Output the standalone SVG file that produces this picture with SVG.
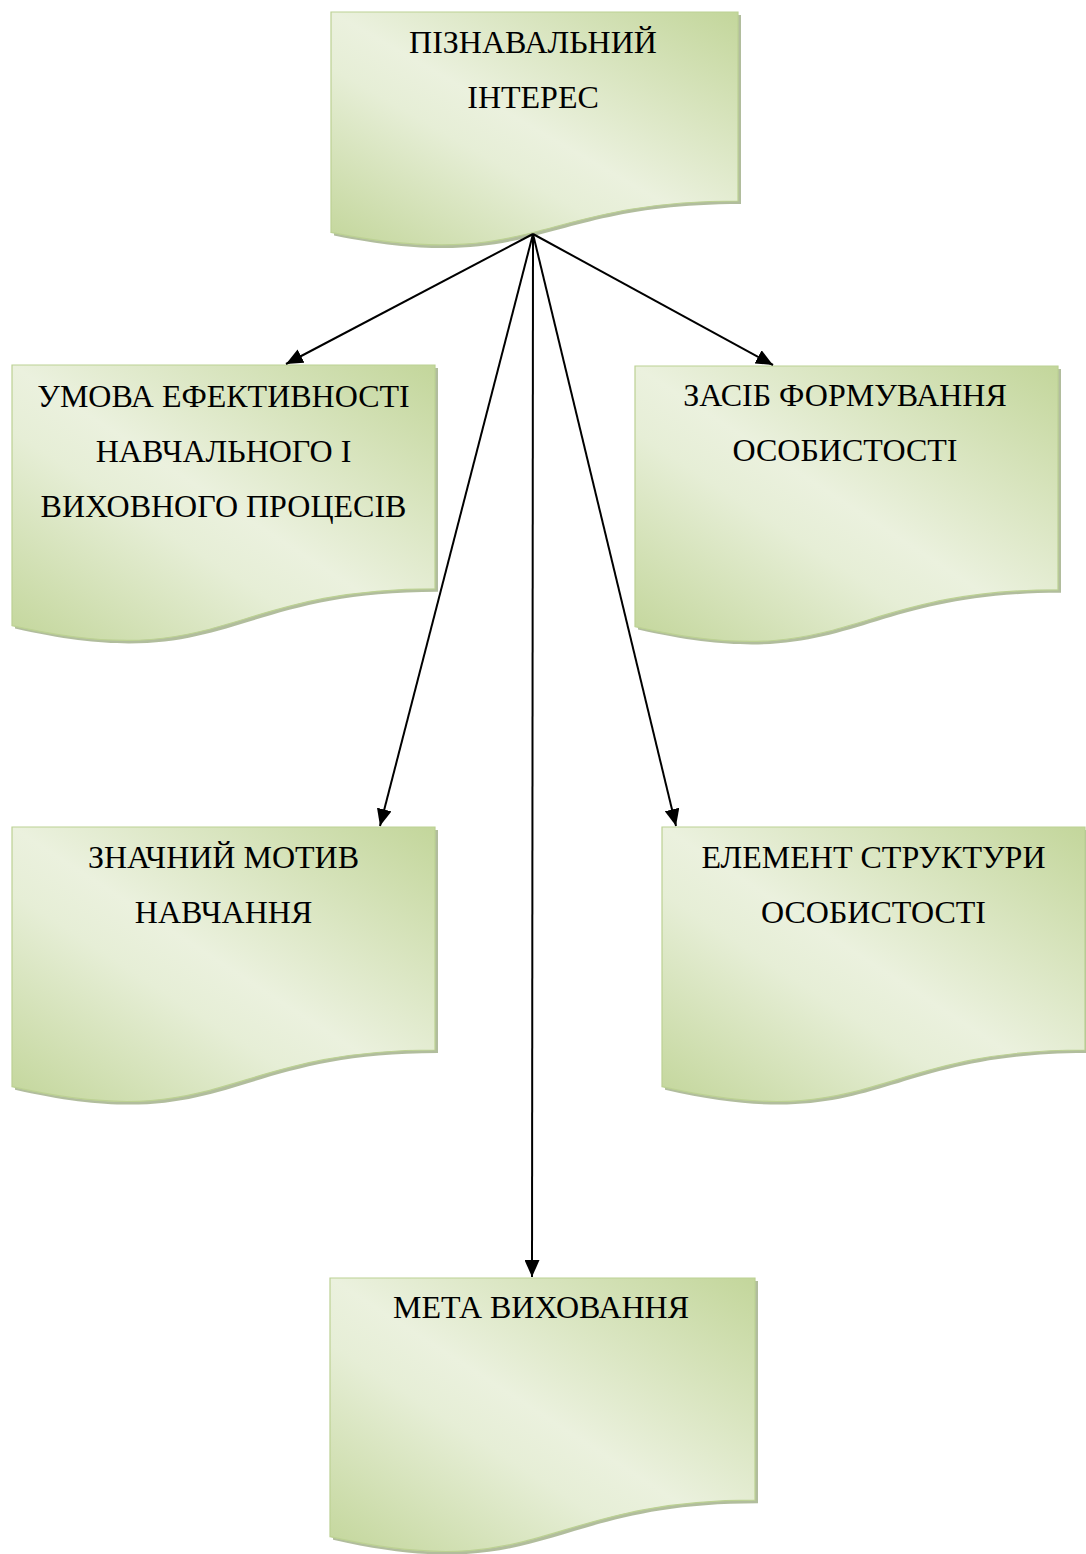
<svg xmlns="http://www.w3.org/2000/svg" width="1086" height="1554" viewBox="0 0 1086 1554">
<defs>
<linearGradient id="g" x1="1" y1="0" x2="0" y2="1">
<stop offset="0" stop-color="#c3d69b"/>
<stop offset="0.5" stop-color="#ebf1de"/>
<stop offset="0.62" stop-color="#e6eed6"/>
<stop offset="1" stop-color="#c3d69b"/>
</linearGradient>
<marker id="ah" markerUnits="userSpaceOnUse" markerWidth="18" markerHeight="15" refX="17" refY="7.5" orient="auto">
<path d="M0,0 L17,7.5 L0,15 Z" fill="#000"/>
</marker>
</defs>
<style>
.sh{fill:#a3b18c;opacity:0.85}
.bx{fill:url(#g);stroke:#bcd193;stroke-width:1.2}
.t{font-family:"Liberation Serif","Times New Roman",serif;font-size:32px;fill:#000;text-anchor:middle}
.c{stroke:#000;stroke-width:2;fill:none;marker-end:url(#ah)}
</style>
<rect width="1086" height="1554" fill="#fff"/>

<g id="node-piznavalnyi">
<path class="sh" transform="translate(3,3)" d="M331,12 H738 V201 C534.5,201 534.5,273.5 331,232.4 Z"/>
<path class="bx" d="M331,12 H738 V201 C534.5,201 534.5,273.5 331,232.4 Z"/>
<text class="t" x="533" y="53">ПІЗНАВАЛЬНИЙ</text>
<text class="t" x="533" y="108">ІНТЕРЕС</text>
</g>

<g id="node-umova">
<path class="sh" transform="translate(3,3)" d="M12,365 H435 V588.8 C223.5,588.8 223.5,674 12,625.6 Z"/>
<path class="bx" d="M12,365 H435 V588.8 C223.5,588.8 223.5,674 12,625.6 Z"/>
<text class="t" x="223.5" y="407">УМОВА ЕФЕКТИВНОСТІ</text>
<text class="t" x="223.5" y="462">НАВЧАЛЬНОГО І</text>
<text class="t" x="223.5" y="517">ВИХОВНОГО ПРОЦЕСІВ</text>
</g>

<g id="node-zasib">
<path class="sh" transform="translate(3,3)" d="M635,366 H1058 V589.8 C846.5,589.8 846.5,675 635,626.6 Z"/>
<path class="bx" d="M635,366 H1058 V589.8 C846.5,589.8 846.5,675 635,626.6 Z"/>
<text class="t" x="845" y="406">ЗАСІБ ФОРМУВАННЯ</text>
<text class="t" x="845" y="461">ОСОБИСТОСТІ</text>
</g>

<g id="node-znachnyi">
<path class="sh" transform="translate(3,3)" d="M12,827 H435 V1050 C223.5,1050 223.5,1135 12,1086.7 Z"/>
<path class="bx" d="M12,827 H435 V1050 C223.5,1050 223.5,1135 12,1086.7 Z"/>
<text class="t" x="223.5" y="868">ЗНАЧНИЙ МОТИВ</text>
<text class="t" x="223.5" y="923">НАВЧАННЯ</text>
</g>

<g id="node-element">
<path class="sh" transform="translate(3,3)" d="M662,827 H1085 V1050 C873.5,1050 873.5,1135 662,1086.7 Z"/>
<path class="bx" d="M662,827 H1085 V1050 C873.5,1050 873.5,1135 662,1086.7 Z"/>
<text class="t" x="873.5" y="868">ЕЛЕМЕНТ СТРУКТУРИ</text>
<text class="t" x="873.5" y="923">ОСОБИСТОСТІ</text>
</g>

<g id="node-meta">
<path class="sh" transform="translate(3,3)" d="M330,1278 H755 V1500.2 C542.5,1500.2 542.5,1584.9 330,1536.7 Z"/>
<path class="bx" d="M330,1278 H755 V1500.2 C542.5,1500.2 542.5,1584.9 330,1536.7 Z"/>
<text class="t" x="541" y="1318">МЕТА ВИХОВАННЯ</text>
</g>

<g id="connectors">
<line class="c" x1="533" y1="234" x2="286" y2="364"/>
<line class="c" x1="533" y1="234" x2="773" y2="365"/>
<line class="c" x1="533" y1="234" x2="380" y2="826"/>
<line class="c" x1="533" y1="234" x2="676" y2="826"/>
<line class="c" x1="533" y1="234" x2="532" y2="1277"/>
</g>
</svg>
